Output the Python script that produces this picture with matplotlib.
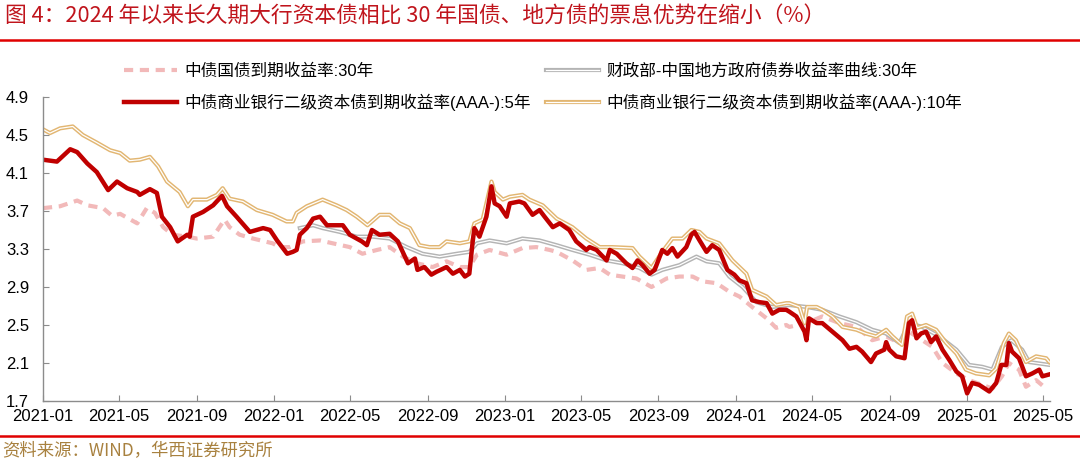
import numpy as np
import pandas as pd
import matplotlib
matplotlib.use("Agg")
import matplotlib.pyplot as plt
import matplotlib.dates as mdates
import matplotlib.patheffects as pe

plt.rcParams['font.family'] = ['Liberation Sans', 'Noto Sans CJK SC', 'DejaVu Sans']

start = pd.Timestamp('2021-01-01')

# days after 2021-01-01, yields in %
red_days = [0, 22, 43, 54, 70, 85, 103, 117, 133, 149, 153, 169, 180, 188, 201, 213, 228, 232, 237,
            253, 269, 283, 291, 306, 327, 348, 359, 370, 386, 395, 401, 406, 417, 427, 438, 449,
            464, 474, 485, 504, 512, 520, 532, 548, 561, 577, 588, 592, 603, 614, 622, 638, 648,
            659, 667, 674, 679, 682, 690, 701, 709, 714, 722, 733, 738, 753, 761, 774, 785, 793,
            806, 817, 832, 843, 859, 864, 875, 891, 896, 907, 922, 932, 940, 948, 959, 967, 979,
            987, 995, 1003, 1017, 1025, 1030, 1038, 1049, 1058, 1069, 1082, 1093, 1101, 1112,
            1121, 1133, 1144, 1153, 1164, 1175, 1180, 1191, 1204, 1207, 1211, 1223, 1232, 1248,
            1264, 1275, 1286, 1295, 1309, 1317, 1330, 1333, 1338, 1349, 1362, 1369, 1374, 1381,
            1388, 1396, 1404, 1412, 1422, 1433, 1444, 1453, 1461, 1469, 1480, 1496, 1507, 1515,
            1523, 1527, 1532, 1543, 1554, 1564, 1575, 1580, 1591]
red_vals = [4.24, 4.22, 4.35, 4.32, 4.20, 4.11, 3.92, 4.01, 3.94, 3.90, 3.87, 3.93, 3.89, 3.64, 3.53,
            3.38, 3.45, 3.43, 3.64, 3.69, 3.76, 3.86, 3.75, 3.64, 3.48, 3.52, 3.50, 3.39, 3.25, 3.27,
            3.29, 3.45, 3.52, 3.62, 3.64, 3.55, 3.55, 3.55, 3.45, 3.38, 3.34, 3.50, 3.45, 3.46, 3.38,
            3.15, 3.20, 3.08, 3.11, 3.03, 3.06, 3.11, 3.04, 3.08, 3.01, 3.04, 3.36, 3.52, 3.43, 3.64,
            3.96, 3.78, 3.75, 3.64, 3.78, 3.80, 3.78, 3.66, 3.71, 3.64, 3.53, 3.57, 3.50, 3.38, 3.29,
            3.32, 3.29, 3.18, 3.29, 3.25, 3.15, 3.10, 3.18, 3.13, 3.04, 3.08, 3.29, 3.25, 3.31, 3.22,
            3.32, 3.45, 3.48, 3.39, 3.27, 3.34, 3.29, 3.08, 3.03, 2.97, 2.94, 2.76, 2.74, 2.73, 2.62,
            2.66, 2.66, 2.64, 2.59, 2.43, 2.34, 2.57, 2.52, 2.52, 2.43, 2.34, 2.25, 2.27, 2.22, 2.11,
            2.20, 2.24, 2.32, 2.24, 2.17, 2.15, 2.52, 2.55, 2.36, 2.41, 2.43, 2.32, 2.38, 2.24, 2.13,
            2.01, 1.96, 1.78, 1.89, 1.87, 1.80, 1.89, 2.08, 2.08, 2.31, 2.22, 2.15, 1.96, 1.99, 2.03,
            1.96, 1.98]

tan_days = [0, 11, 27, 47, 63, 85, 106, 122, 137, 153, 169, 182, 196, 216, 229, 237, 259, 275, 284,
            295, 316, 338, 363, 385, 395, 401, 417, 442, 464, 480, 496, 513, 532, 548, 564, 580,
            595, 611, 627, 638, 659, 674, 682, 695, 701, 709, 714, 727, 738, 758, 769, 790, 812,
            837, 859, 880, 900, 932, 943, 962, 979, 995, 1011, 1025, 1038, 1049, 1069, 1090, 1112,
            1121, 1144, 1159, 1175, 1180, 1196, 1204, 1208, 1223, 1232, 1248, 1264, 1286, 1301,
            1317, 1333, 1343, 1358, 1366, 1374, 1382, 1396, 1412, 1428, 1444, 1459, 1475, 1496,
            1507, 1519, 1527, 1538, 1554, 1570, 1586, 1591]
tan_vals = [4.56, 4.52, 4.57, 4.59, 4.50, 4.42, 4.34, 4.31, 4.23, 4.24, 4.27, 4.17, 4.01, 3.90, 3.75,
            3.82, 3.82, 3.87, 3.94, 3.83, 3.80, 3.71, 3.66, 3.59, 3.59, 3.68, 3.75, 3.82, 3.76, 3.71,
            3.64, 3.55, 3.66, 3.66, 3.57, 3.52, 3.34, 3.32, 3.32, 3.38, 3.36, 3.38, 3.57, 3.61, 3.78,
            4.01, 3.90, 3.82, 3.85, 3.87, 3.82, 3.76, 3.62, 3.53, 3.41, 3.32, 3.32, 3.31, 3.22, 3.10,
            3.27, 3.41, 3.41, 3.50, 3.48, 3.41, 3.36, 3.18, 3.04, 2.87, 2.80, 2.71, 2.73, 2.73, 2.69,
            2.52, 2.69, 2.69, 2.66, 2.59, 2.48, 2.45, 2.41, 2.38, 2.45, 2.38, 2.29, 2.59, 2.62, 2.47,
            2.50, 2.45, 2.31, 2.20, 2.03, 1.99, 1.97, 2.04, 2.31, 2.41, 2.34, 2.11, 2.17, 2.15, 2.11]

gray_days = [406, 427, 442, 469, 496, 521, 548, 575, 600, 627, 654, 674, 686, 706, 733, 758, 785,
             812, 837, 864, 891, 916, 943, 962, 979, 1006, 1033, 1049, 1069, 1085, 1106, 1128,
             1153, 1180, 1207, 1232, 1259, 1286, 1311, 1333, 1354, 1369, 1390, 1417, 1444, 1464,
             1485, 1501, 1516, 1531, 1548, 1559, 1591]
gray_vals = [3.52, 3.55, 3.52, 3.48, 3.43, 3.43, 3.41, 3.32, 3.25, 3.22, 3.25, 3.27, 3.36, 3.39,
             3.36, 3.41, 3.39, 3.34, 3.29, 3.24, 3.18, 3.15, 3.10, 3.03, 3.08, 3.13, 3.22, 3.17,
             3.15, 3.01, 2.90, 2.74, 2.69, 2.71, 2.69, 2.66, 2.59, 2.53, 2.45, 2.41, 2.31, 2.52,
             2.48, 2.38, 2.24, 2.08, 2.06, 2.03, 2.27, 2.34, 2.24, 2.11, 2.08]

pink_days = [0, 27, 54, 70, 95, 109, 122, 149, 164, 177, 190, 205, 228, 243, 269, 287, 295, 311,
             332, 363, 374, 390, 411, 438, 458, 485, 505, 528, 548, 569, 591, 616, 638, 659, 674,
             686, 706, 733, 758, 780, 801, 812, 837, 859, 880, 896, 916, 938, 962, 986, 1006, 1027,
             1042, 1065, 1085, 1101, 1121, 1144, 1159, 1175, 1180, 1207, 1232, 1259, 1286, 1311,
             1333, 1354, 1369, 1390, 1406, 1422, 1444, 1464, 1485, 1501, 1516, 1527, 1543, 1554,
             1570, 1586]
pink_vals = [3.73, 3.75, 3.81, 3.76, 3.73, 3.65, 3.67, 3.57, 3.73, 3.68, 3.53, 3.45, 3.43, 3.41,
             3.43, 3.61, 3.53, 3.45, 3.41, 3.36, 3.32, 3.32, 3.38, 3.39, 3.36, 3.32, 3.25, 3.29,
             3.32, 3.22, 3.15, 3.11, 3.17, 3.11, 3.11, 3.24, 3.29, 3.24, 3.31, 3.32, 3.29, 3.27,
             3.18, 3.08, 3.10, 3.03, 3.01, 2.99, 2.90, 2.99, 3.01, 3.01, 2.96, 2.94, 2.85, 2.80,
             2.69, 2.57, 2.47, 2.50, 2.48, 2.52, 2.59, 2.52, 2.48, 2.34, 2.38, 2.31, 2.43, 2.34,
             2.27, 2.10, 1.99, 1.92, 1.87, 1.83, 1.96, 2.10, 2.03, 1.85, 1.92, 1.83]

labels = ['中债国债到期收益率:30年',
          '中债商业银行二级资本债到期收益率(AAA-):5年',
          '财政部-中国地方政府债券收益率曲线:30年',
          '中债商业银行二级资本债到期收益率(AAA-):10年']

title = '图 4：2024 年以来长久期大行资本债相比 30 年国债、地方债的票息优势在缩小（%）'
source = '资料来源：WIND，华西证券研究所'


def to_dates(days):
    return start + pd.to_timedelta(days, unit='D')


fig = plt.figure(figsize=(10.8, 4.74), dpi=100)
ax = fig.add_axes([43 / 1080, 1 - 401 / 474, 1007 / 1080, 304 / 474])

pink_line, = ax.plot(to_dates(pink_days), pink_vals, color='#F2B9B9', lw=3,
                     dashes=(2.2, 1.6), label=labels[0])
gray_line, = ax.plot(to_dates(gray_days), gray_vals, color='white', lw=0.9, label=labels[2],
                     path_effects=[pe.Stroke(linewidth=3.0, foreground='#B4B4B4'), pe.Normal()])
tan_line, = ax.plot(to_dates(tan_days), tan_vals, color='white', lw=0.9, label=labels[3],
                    path_effects=[pe.Stroke(linewidth=3.0, foreground='#E2B672'), pe.Normal()])
red_line, = ax.plot(to_dates(red_days), red_vals, color='#C00000', lw=3.2, label=labels[1])

ax.set_ylim(1.7, 4.9)
ax.set_yticks(np.arange(1.7, 4.91, 0.4))
ax.yaxis.set_major_formatter(plt.FuncFormatter(lambda v, p: f'{v:.1f}'))
ax.set_xlim(start, start + pd.Timedelta(days=1592))
ax.set_xticks(pd.date_range('2021-01-01', '2025-05-01', freq='4MS'))
ax.xaxis.set_major_formatter(mdates.DateFormatter('%Y-%m'))

for s in ['top', 'right']:
    ax.spines[s].set_visible(False)
for s in ['left', 'bottom']:
    ax.spines[s].set_color('#8C8C8C')
    ax.spines[s].set_linewidth(1.0)
ax.tick_params(axis='both', direction='in', length=4, color='#8C8C8C', labelsize=12,
               labelcolor='black')
ax.tick_params(axis='y', pad=10)
ax.tick_params(axis='x', pad=6)

leg = fig.legend(handles=[pink_line, red_line, gray_line, tan_line],
                 labels=[labels[0], labels[1], labels[2], labels[3]],
                 ncol=2, loc='upper left', bbox_to_anchor=(124 / 1080, 1 - 63 / 474),
                 frameon=False, fontsize=12, handlelength=3.2, handletextpad=0.45,
                 columnspacing=0.85, labelspacing=0.92, borderpad=0, borderaxespad=0)

fig.text(5 / 1080, 1 - 17 / 474, title, color='#C0141C', fontsize=15.7, va='center', ha='left',
         family=['Noto Sans CJK SC', 'DejaVu Sans'], fontweight='medium')
fig.add_artist(plt.Line2D([0, 1], [1 - 40 / 474, 1 - 40 / 474], color='#E00000', lw=1.8))
fig.add_artist(plt.Line2D([0, 1], [1 - 436 / 474, 1 - 436 / 474], color='#E00000', lw=1.8))
fig.text(2 / 1080, 1 - 451 / 474, source, color='#A8813F', fontsize=12.5, va='center', ha='left',
         family=['Noto Sans CJK SC', 'DejaVu Sans'])

fig.savefig('out.png', dpi=100)
